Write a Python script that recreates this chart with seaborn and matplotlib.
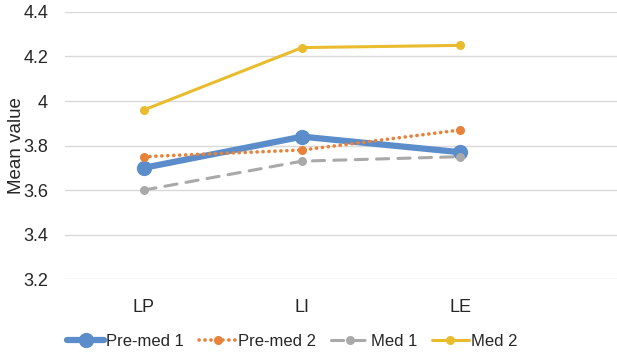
import pandas as pd
import seaborn as sns
import matplotlib.pyplot as plt

categorias = ["LP", "LI", "LE"]
series = ["Pre-med 1", "Pre-med 2", "Med 1", "Med 2"]
pre_med_1 = [3.70, 3.84, 3.77]
pre_med_2 = [3.75, 3.78, 3.87]
med_1 = [3.60, 3.73, 3.75]
med_2 = [3.96, 4.24, 4.25]
y_ticks = [3.2, 3.4, 3.6, 3.8, 4.0, 4.2, 4.4]
y_labels = ["3.2", "3.4", "3.6", "3.8", "4", "4.2", "4.4"]

datos = pd.DataFrame({
    "categoria": categorias * 4,
    "serie": [s for s in series for _ in categorias],
    "valor": pre_med_1 + pre_med_2 + med_1 + med_2,
})

sns.set_style("white")
plt.rcParams["font.family"] = ["Liberation Sans", "DejaVu Sans"]

# estilos por serie (color, grosor, trazo, tamaño de marcador)
estilos = {
    "Pre-med 1": ("#5B8DCB", 4.5, "-", 11),
    "Pre-med 2": ("#E8823A", 2.6, (0, (0.05, 1.6)), 6.5),
    "Med 1": ("#A9A9A9", 2.2, (0, (4, 3)), 6.5),
    "Med 2": ("#E9BC2E", 2.2, "-", 6.5),
}

fig = plt.figure(figsize=(6.17, 3.52), dpi=100)
ax = fig.add_axes([0.105, 0.207, 0.895, 0.759])

handles = []
for serie in series:
    color, lw, ls, ms = estilos[serie]
    sub = datos[datos["serie"] == serie]
    sns.lineplot(data=sub, x="categoria", y="valor", ax=ax, color=color,
                 linewidth=lw, marker="o", markersize=ms, markeredgewidth=0,
                 label=serie, sort=False)
    ax.lines[-1].set_linestyle(ls)
    ax.lines[-1].set_dash_capstyle("round")
    handles.append(ax.lines[-1])

ax.set_ylim(3.2, 4.4)
ax.set_xlim(-0.5, 2.99)
ax.set_yticks(y_ticks)
ax.set_yticklabels(y_labels)
ax.yaxis.grid(True, color="#D9D9D9", linewidth=1)
ax.set_axisbelow(True)
for s in ax.spines.values():
    s.set_visible(False)
ax.tick_params(axis="both", length=0, labelsize=13, colors="#262626", pad=12)
ax.tick_params(axis="x", pad=14)
ax.set_xlabel("")
ax.set_ylabel("Mean value", fontsize=13.5, color="#262626")
ax.yaxis.set_label_coords(-0.072, 0.5)

ax.legend(handles=handles, labels=series, loc="lower center", ncol=4,
          bbox_to_anchor=(0.474, -0.01), bbox_transform=fig.transFigure,
          frameon=False, fontsize=12, handlelength=2.2, handletextpad=0.15,
          columnspacing=0.9, borderaxespad=0.0)

fig.savefig("out.png", dpi=100)
